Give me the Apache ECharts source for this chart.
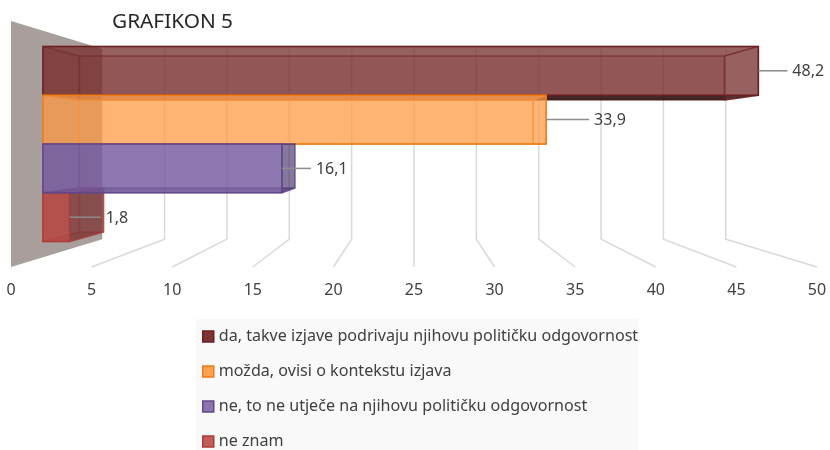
<!DOCTYPE html>
<html>
<head>
<meta charset="utf-8">
<style>
  html, body { margin: 0; background: #fff; }
  #chart { width: 830px; height: 450px; }
</style>
<script src="https://cdn.jsdelivr.net/npm/echarts@6/dist/echarts.min.js"></script>
</head>
<body>
<div id="chart"></div>
<script>
const categories = [
  'da, takve izjave podrivaju njihovu političku odgovornost',
  'možda, ovisi o kontekstu izjava',
  'ne, to ne utječe na njihovu političku odgovornost',
  'ne znam'
];
const values = [48.2, 33.9, 16.1, 1.8];
const ticks = [0, 5, 10, 15, 20, 25, 30, 35, 40, 45, 50];

// face colours per bar
const borderColors = ['#6d2021', '#f07c17', '#62478c', '#ad3c38'];
const frontColors = ['rgba(122,46,46,0.66)', 'rgba(255,155,70,0.68)', 'rgba(118,90,160,0.72)', 'rgba(195,72,66,0.72)'];
const backColors = ['rgba(110,30,30,0.4)', 'rgba(250,140,50,0.2)', 'rgba(100,70,145,0.3)', 'rgba(115,40,40,0.45)'];
const sideColors = ['rgba(90,30,30,0.25)', 'rgba(240,130,40,0.12)', 'rgba(60,40,90,0.5)', 'rgba(120,40,40,0.4)'];
const undersideColors = ['rgba(30,10,10,0.7)', 'rgba(200,100,30,0.4)', 'rgba(60,40,100,0.4)', 'rgba(115,40,40,0.2)'];
const legendColors = ['#7d3233', '#fba14f', '#8e73ad', '#c15c58'];
const leaderLengths = [29, 43, 29, 31];
const drawOrder = [4, 5, 6, 3]; // the lowest bar sits behind the others

const gridLeft = 11;
const gridWidth = 806;
const gridTop = 38;
const gridHeight = 212;
const wallPad = 17;
const backScale = 0.7736; // size of the back plane against the front plane
const barNear = 0.35;
const barFar = 0.75;
const fontName = 'Noto Sans';

const cx = gridLeft + gridWidth / 2;
const cy = gridTop + gridHeight / 2;

function project(p, t) {
  const s = 1 - (1 - backScale) * t;
  return [cx + (p[0] - cx) * s, cy + (p[1] - cy) * s];
}

function face(points, fill, stroke, strokeOpacity) {
  return {
    type: 'polygon',
    shape: { points: points },
    style: { fill: fill, stroke: stroke, lineWidth: 1.5, lineJoin: 'round', strokeOpacity: strokeOpacity }
  };
}

function renderBar(i) {
  return function (params, api) {
    const end = api.coord([api.value(0), api.value(1)]);
    const start = api.coord([0, api.value(1)]);
    // the part of the underside that the next bar does not cover
    const open = api.coord([values[i + 1] || 0, api.value(1)]);
    const h = api.size([0, 1])[1] / 2;
    const corner = (p, dy, t) => project([p[0], p[1] + dy], t);

    const nl = corner(start, -h, barNear), nr = corner(end, -h, barNear);
    const nlb = corner(start, h, barNear), nrb = corner(end, h, barNear);
    const fl = corner(start, -h, barFar), fr = corner(end, -h, barFar);
    const flb = corner(start, h, barFar), frb = corner(end, h, barFar);
    const onb = corner(open, h, barNear), ofb = corner(open, h, barFar);

    const mid = project(end, barNear);
    const lineEnd = mid[0] + leaderLengths[i];

    return {
      type: 'group',
      children: [
        face([fl, fr, frb, flb], backColors[i], borderColors[i], 0.4),
        face([nl, fl, flb, nlb], backColors[i], borderColors[i], 0.4),
        face([nlb, nrb, frb, flb], backColors[i], borderColors[i], 0.4),
        face([onb, nrb, frb, ofb], undersideColors[i], borderColors[i], 0),
        face([nl, nr, fr, fl], sideColors[i], borderColors[i], 0.4),
        face([nr, fr, frb, nrb], sideColors[i], borderColors[i], 0.7),
        face([nl, nr, nrb, nlb], frontColors[i], borderColors[i], 1),
        {
          type: 'line',
          shape: { x1: mid[0], y1: mid[1], x2: lineEnd, y2: mid[1] },
          style: { stroke: '#8c8c8c', lineWidth: 1.5 }
        },
        {
          type: 'text',
          style: {
            x: lineEnd + 5,
            y: mid[1] + 1,
            text: String(api.value(0)).replace('.', ','),
            fill: '#404040',
            font: '16px "' + fontName + '"',
            textAlign: 'left',
            textVerticalAlign: 'middle'
          }
        }
      ]
    };
  };
}

function renderGridLine(params, api) {
  const v = api.value(0);
  const x = api.coord([v, 0])[0];
  const top = project([x, gridTop - wallPad], 1);
  const floorBack = project([x, gridTop + gridHeight + wallPad], 1);
  const floorFront = [x, gridTop + gridHeight + wallPad];
  return {
    type: 'polyline',
    shape: { points: [top, floorBack, floorFront] },
    style: { fill: null, stroke: '#d9d9d9', lineWidth: 1.5 }
  };
}

function renderWall(params, api) {
  const x = api.coord([ticks[0], 0])[0];
  const yTop = gridTop - wallPad;
  const yBottom = gridTop + gridHeight + wallPad;
  return {
    type: 'polygon',
    shape: { points: [[x, yTop], project([x, yTop], 1), project([x, yBottom], 1), [x, yBottom]] },
    style: { fill: '#a89e9b' }
  };
}

const barSeries = categories.map((name, i) => ({
  name: name,
  type: 'custom',
  renderItem: renderBar(i),
  encode: { x: 0, y: 1 },
  data: [[values[i], i]],
  z: drawOrder[i],
  silent: true
}));

const option = {
  animation: false,
  title: {
    text: 'GRAFIKON 5',
    left: 112,
    top: 12,
    padding: 0,
    textStyle: { fontFamily: fontName, fontSize: 20.8, fontWeight: 'normal', color: '#262626' }
  },
  grid: { left: gridLeft, width: gridWidth, top: gridTop, height: gridHeight },
  xAxis: {
    type: 'value',
    min: 0,
    max: 50,
    interval: 5,
    axisLine: { show: false },
    axisTick: { show: false },
    splitLine: { show: false },
    axisLabel: { margin: 32, fontFamily: fontName, fontSize: 16, color: '#404040' }
  },
  yAxis: {
    type: 'category',
    inverse: true,
    data: categories,
    show: false
  },
  legend: {
    orient: 'vertical',
    left: 196,
    top: 319,
    height: 200,
    padding: [9, 0, 14, 6],
    backgroundColor: '#f9f9f9',
    itemWidth: 11,
    itemHeight: 11,
    itemGap: 18,
    icon: 'rect',
    textStyle: { fontFamily: fontName, fontSize: 16.1, lineHeight: 17, color: '#404040' },
    data: categories.map((name, i) => ({
      name: name,
      itemStyle: { color: legendColors[i], borderColor: borderColors[i], borderWidth: 1.5 }
    }))
  },
  series: [
    {
      name: 'zid',
      type: 'custom',
      renderItem: renderWall,
      encode: { x: 0, y: 1 },
      data: [[0, 0]],
      z: 1,
      silent: true
    },
    {
      name: 'mreža',
      type: 'custom',
      renderItem: renderGridLine,
      encode: { x: 0, y: 1 },
      data: ticks.slice(1).map(t => [t, 0]),
      z: 2,
      silent: true
    }
  ].concat(barSeries)
};

const myChart = echarts.init(document.getElementById('chart'));
myChart.setOption(option);
</script>
</body>
</html>
